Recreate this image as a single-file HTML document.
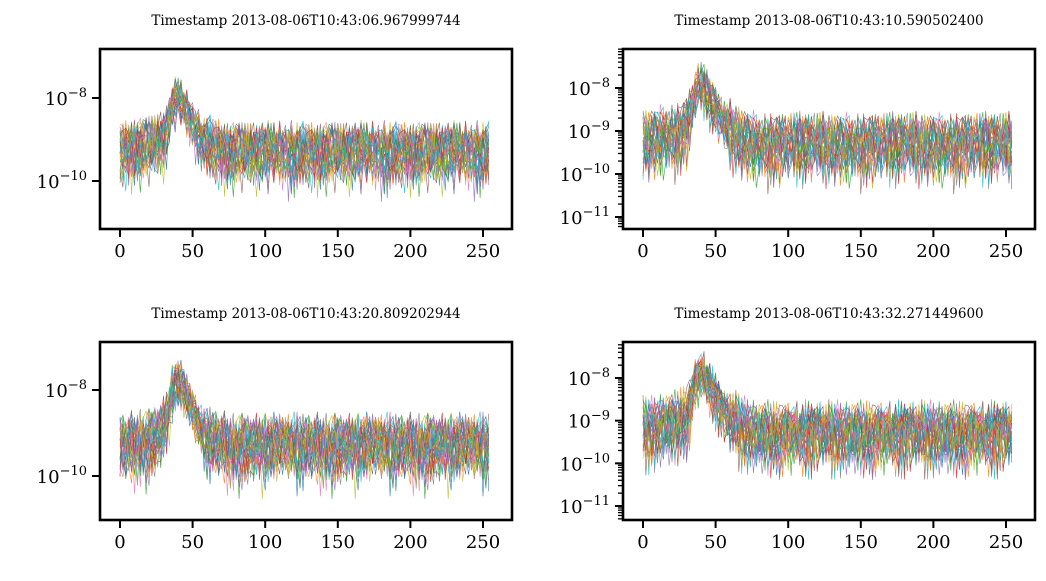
<!DOCTYPE html>
<html><head><meta charset="utf-8"><style>
body{margin:0;background:#fff;}
svg{display:block;font-family:"DejaVu Serif","Liberation Serif",serif;}
</style></head><body>
<svg id="c" width="1046" height="581"></svg>
<script>
// mean log10 power profile sampled at x = 0,5,10,...
const profileX = [0,5,10,15,20,25,30,33,36,39,42,45,50,55,60,65,70,75,80,90,100,120,150,180,200,220,240,255];
const profile1 = [-9.3,-9.25,-9.2,-9.2,-9.15,-9.1,-9.0,-8.7,-8.2,-8.0,-8.1,-8.3,-8.6,-8.9,-9.1,-9.2,-9.25,-9.3,-9.3,-9.3,-9.3,-9.3,-9.3,-9.3,-9.3,-9.3,-9.3,-9.3];
const profile2 = [-9.2,-9.2,-9.15,-9.1,-9.1,-9.05,-8.9,-8.6,-8.1,-7.9,-8.0,-8.2,-8.5,-8.8,-9.0,-9.1,-9.2,-9.25,-9.3,-9.3,-9.3,-9.3,-9.3,-9.3,-9.3,-9.3,-9.3,-9.3];
const profile3 = [-9.3,-9.3,-9.25,-9.2,-9.2,-9.1,-8.9,-8.6,-8.0,-7.8,-7.9,-8.1,-8.5,-8.9,-9.1,-9.2,-9.25,-9.3,-9.3,-9.3,-9.3,-9.3,-9.3,-9.3,-9.3,-9.3,-9.3,-9.3];
const profile4 = [-9.2,-9.2,-9.15,-9.1,-9.1,-9.0,-8.9,-8.6,-8.1,-7.9,-7.95,-8.1,-8.45,-8.8,-9.0,-9.1,-9.2,-9.25,-9.3,-9.3,-9.3,-9.3,-9.3,-9.3,-9.3,-9.3,-9.3,-9.3];
// literal noise offsets (decades) read as typical scatter
const jitter = [0.3,-0.2,0.45,-0.5,0.1,0.25,-0.35,0.5,-0.1,0.2,-0.7,0.35,0.05,-0.3,0.4,-0.15,0.15,-0.45,0.3,-0.05,0.5,-0.25,0.1,-0.55,0.35,0.2,-0.4,0.05,0.45,-0.2,-0.1,0.3,-0.35,0.25,-0.9,0.15,0.4,-0.3,0.0,0.35,-0.15,0.2,-0.5,0.45,-0.05,0.1,-0.4,0.3,0.25,-0.25,0.5,-0.35,0.15,-0.1,0.4,-0.45,0.05,0.2,-0.3,0.35,-0.2,0.1,-0.75,0.45];
const titles = ["Timestamp 2013-08-06T10:43:06.967999744","Timestamp 2013-08-06T10:43:10.590502400","Timestamp 2013-08-06T10:43:20.809202944","Timestamp 2013-08-06T10:43:32.271449600"];
const xTicks = [0,50,100,150,200,250];
const colors = ["#1f77b4","#ff7f0e","#2ca02c","#d62728","#9467bd","#8c564b","#e377c2","#7f7f7f","#bcbd22","#17becf"];

const panels = [
 {L:100,R:512,T:49,B:229,x0:120,x250:483,yTicks:[-8,-10],yA:-8,pA:98,yB:-10,pB:181,minor:false,prof:profile1},
 {L:623,R:1035,T:49,B:229,x0:643,x250:1006,yTicks:[-8,-9,-10,-11],yA:-8,pA:88,yB:-11,pB:217,minor:true,prof:profile2},
 {L:100,R:512,T:342,B:520,x0:120,x250:483,yTicks:[-8,-10],yA:-8,pA:390,yB:-10,pB:476,minor:false,prof:profile3},
 {L:623,R:1035,T:342,B:520,x0:643,x250:1006,yTicks:[-8,-9,-10,-11],yA:-8,pA:378,yB:-11,pB:506,minor:true,prof:profile4}
];
const NS="http://www.w3.org/2000/svg";
const svg=document.getElementById('c');
function mk(t,a,p){const e=document.createElementNS(NS,t);for(const k in a)e.setAttribute(k,a[k]);(p||svg).appendChild(e);return e;}
function interp(xs,ys,x){for(let i=1;i<xs.length;i++){if(x<=xs[i]){const f=(x-xs[i-1])/(xs[i]-xs[i-1]);return ys[i-1]+f*(ys[i]-ys[i-1]);}}return ys[ys.length-1];}
panels.forEach((p,pi)=>{
 const g=mk('g',{});
 
 
 const xs=v=>p.x0+(p.x250-p.x0)*v/250;
 const ys=l=>p.pA+(p.pB-p.pA)*(l-p.yA)/(p.yB-p.yA);
 const cid='clip'+pi;
 const cp=mk('clipPath',{id:cid},g);mk('rect',{x:p.L,y:p.T,width:p.R-p.L,height:p.B-p.T},cp);
 const lg=mk('g',{'clip-path':'url(#'+cid+')'},g);
 
 
 const nLines=30;
 for(let k=0;k<nLines;k++){
  let d='';
  for(let x=0;x<=255;x+=2){
   const j=jitter[(x*7+k*13+pi*5)%jitter.length]+0.6*jitter[(x*3+k*29+pi*11+17)%jitter.length];
   const peak=(x>32&&x<60)?0.75:1;
   const l=interp(profileX,p.prof,x)+j*peak;
   d+=(x?'L':'M')+xs(x).toFixed(1)+','+ys(l).toFixed(1);
  }
  const pl=mk('path',{d:d,fill:'none',stroke:colors[k%10],'stroke-width':0.6,'stroke-opacity':0.9},lg);
  
  
 }
 const fr=mk('rect',{x:p.L,y:p.T,width:p.R-p.L,height:p.B-p.T,fill:'none',stroke:'#000','stroke-width':2.6},g);
 
 
 xTicks.forEach(v=>{
  const x=xs(v);
  mk('line',{x1:x,x2:x,y1:p.B,y2:p.B+8,stroke:'#000','stroke-width':2},g);
  const t=mk('text',{x:x,y:p.B+28,'text-anchor':'middle','font-size':18},g);t.textContent=v;
  
  
 });
 p.yTicks.forEach(v=>{
  const y=ys(v);
  mk('line',{x1:p.L-8,x2:p.L,y1:y,y2:y,stroke:'#000','stroke-width':2},g);
  const t=mk('text',{x:p.L-13,y:y+7,'text-anchor':'end','font-size':18},g);
  
  
  t.innerHTML='10<tspan dy="-8" font-size="13">'+(v<0?'\u2212':'')+Math.abs(v)+'</tspan>';
 });
 if(p.minor){
  for(let dec=-12;dec<=-7;dec++)for(let m=2;m<=9;m++){
   const l=dec+Math.log10(m);const y=ys(l);
   if(y>p.T&&y<p.B)mk('line',{x1:p.L-5,x2:p.L,y1:y,y2:y,stroke:'#000','stroke-width':1.3},g);
  }
 }
 const tt=mk('text',{x:(p.L+p.R)/2,y:p.T-24,'text-anchor':'middle','font-size':13.5},g);
 tt.textContent=titles[pi];
 
 
});
</script>
</body></html>
